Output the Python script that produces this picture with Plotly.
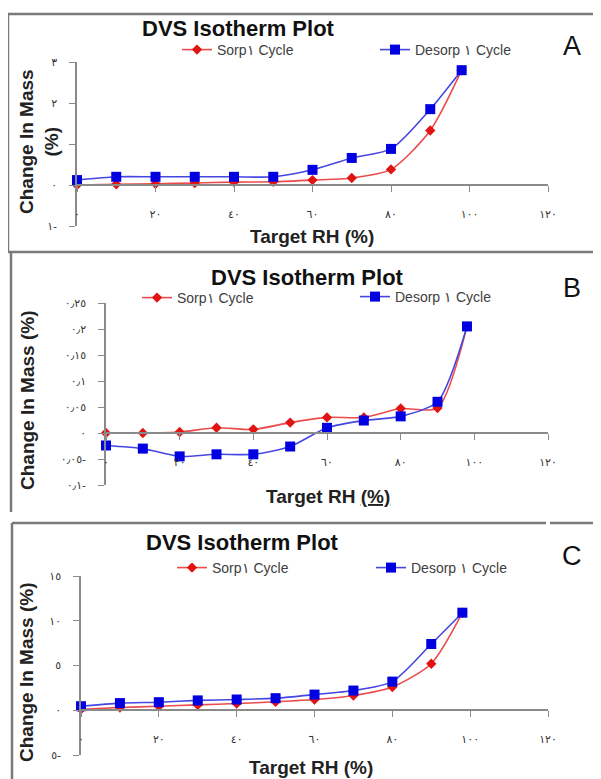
import plotly.graph_objects as go

W, H = 601, 779

# ---------------- data ----------------
rh = [0, 10, 20, 30, 40, 50, 60, 70, 80, 90, 98]

a_sorp = [0.0, 0.02, 0.03, 0.05, 0.07, 0.08, 0.12, 0.17, 0.38, 1.33, 2.8]
a_desorp = [0.12, 0.2, 0.2, 0.2, 0.2, 0.2, 0.37, 0.66, 0.88, 1.85, 2.8]

b_sorp = [0.0, 0.0, 0.002, 0.01, 0.007, 0.02, 0.03, 0.03, 0.047, 0.048, 0.205]
b_desorp = [-0.024, -0.03, -0.045, -0.041, -0.041, -0.026, 0.01, 0.024, 0.032, 0.06, 0.205]

c_sorp = [0.1, 0.3, 0.45, 0.6, 0.75, 0.95, 1.2, 1.65, 2.6, 5.2, 10.9]
c_desorp = [0.45, 0.8, 0.9, 1.1, 1.2, 1.35, 1.75, 2.2, 3.2, 7.4, 10.9]

x_tickvals = [0, 20, 40, 60, 80, 100, 120]
x_ticktext = ["٠", "٢٠", "٤٠", "٦٠", "٨٠", "١٠٠", "١٢٠"]

a_yvals = [-1, 0, 1, 2, 3]
a_ytext = ["١-", "٠", "", "٢", "٣"]
b_yvals = [-0.1, -0.05, 0, 0.05, 0.1, 0.15, 0.2, 0.25]
b_ytext = ["٠٫١-", "٠٫٠٥-", "٠", "٠٫٠٥", "٠٫١", "٠٫١٥", "٠٫٢", "٠٫٢٥"]
c_yvals = [-5, 0, 5, 10, 15]
c_ytext = ["٥-", "٠", "٥", "١٠", "١٥"]

sorp_name = "Sorp١ Cycle"
desorp_name = "Desorp ١ Cycle"
title_text = "DVS Isotherm Plot"
x_title = "Target RH (%)"

# ---------------- helpers ----------------
OX, OY = 8, 8  # page body margin offset


def px(x):
    return (x - OX) / W


def py(y):
    return 1 - (y - OY) / H


GRAY = "#8a8a8a"
RED_L = "rgb(235,75,75)"
RED_M = "rgb(225,20,20)"
BLUE_L = "rgb(70,70,225)"
BLUE_M = "rgb(0,0,225)"
FONT = "Liberation Sans, Arial, sans-serif"

panels = [
    dict(key="", sorp=a_sorp, desorp=a_desorp, xpx=(77, 548), ypx=(62, 226), yr=[-1, 3],
         yv=a_yvals, yt=a_ytext, leg=((177, 50), (375, 50)),
         title=(238, 29), letter=("A", 572, 46),
         ytitle=("Change In Mass<br>(%)", 39, 142), xtitle=(x_title, 312, 236)),
    dict(key="2", sorp=b_sorp, desorp=b_desorp, xpx=(106, 548), ypx=(303, 485), yr=[-0.1, 0.25],
         yv=b_yvals, yt=b_ytext, leg=((137, 298), (355, 297)),
         title=(307, 277), letter=("B", 572, 288),
         ytitle=("Change In Mass (%)", 27, 401), xtitle=("Target RH <u>(%)</u>", 328, 497)),
    dict(key="3", sorp=c_sorp, desorp=c_desorp, xpx=(81, 548), ypx=(576, 755), yr=[-5, 15],
         yv=c_yvals, yt=c_ytext, leg=((172, 568), (371, 568)),
         title=(242, 542), letter=("C", 572, 556),
         ytitle=("Change In Mass (%)", 26, 673), xtitle=(x_title, 311, 767)),
]

fig = go.Figure()
annotations = []
layout = {}

for i, p in enumerate(panels):
    k = p["key"]
    xa = "x" + k
    ya = "y" + k
    lg1 = "legend" + ("" if i == 0 else str(2 * i + 1))
    lg2 = "legend" + str(2 * i + 2)

    fig.add_trace(go.Scatter(
        x=rh, y=p["sorp"], name=sorp_name, mode="lines+markers",
        line=dict(color=RED_L, width=1.6, shape="spline", smoothing=0.7),
        marker=dict(symbol="diamond", size=8, color=RED_M),
        xaxis=xa, yaxis=ya, legend=lg1, showlegend=True, cliponaxis=False))
    fig.add_trace(go.Scatter(
        x=rh, y=p["desorp"], name=desorp_name, mode="lines+markers",
        line=dict(color=BLUE_L, width=1.6, shape="spline", smoothing=0.7),
        marker=dict(symbol="square", size=10, color=BLUE_M),
        xaxis=xa, yaxis=ya, legend=lg2, showlegend=True, cliponaxis=False))

    x0, x1 = p["xpx"]
    yt, yb = p["ypx"]
    ydom = [py(yb), py(yt)]
    ymin, ymax = p["yr"]
    zero_pos = ydom[0] + (0 - ymin) / (ymax - ymin) * (ydom[1] - ydom[0])

    layout["xaxis" + k] = dict(
        domain=[px(x0), px(x1)], range=[0, 120], anchor="free", position=zero_pos,
        showline=True, linecolor=GRAY, linewidth=1.5, ticks="outside", ticklen=6,
        tickcolor=GRAY, tickwidth=1.2, tickvals=x_tickvals, ticktext=x_ticktext,
        ticklabelstandoff=13, showgrid=False, zeroline=False, automargin=False,
        tickfont=dict(family="DejaVu Sans", size=11, color="#333333"))
    layout["yaxis" + k] = dict(
        domain=ydom, range=p["yr"], anchor=xa,
        showline=True, linecolor=GRAY, linewidth=1.5, ticks="outside", ticklen=6,
        tickcolor=GRAY, tickwidth=1.2, tickvals=p["yv"], ticktext=p["yt"],
        ticklabelstandoff=10, showgrid=False, zeroline=False, automargin=False,
        tickfont=dict(family="DejaVu Sans", size=11, color="#333333"))

    (l1x, l1y), (l2x, l2y) = p["leg"]
    for lg, lx, ly in ((lg1, l1x, l1y), (lg2, l2x, l2y)):
        layout[lg] = dict(x=px(lx), y=py(ly), xanchor="left", yanchor="middle",
                          orientation="h", bgcolor="rgba(0,0,0,0)", borderwidth=0,
                          font=dict(family=FONT, size=14, color="#404040"))

    tx, ty = p["title"]
    annotations.append(dict(text="<b>" + title_text + "</b>", x=px(tx), y=py(ty),
                            xref="paper", yref="paper", showarrow=False,
                            xanchor="center", yanchor="middle",
                            font=dict(family=FONT, size=22, color="#111111")))
    lt, lx_, ly_ = p["letter"]
    annotations.append(dict(text=lt, x=px(lx_), y=py(ly_), xref="paper", yref="paper",
                            showarrow=False, xanchor="center", yanchor="middle",
                            font=dict(family=FONT, size=27, color="#111111")))
    ytx, yx, yy = p["ytitle"]
    annotations.append(dict(text="<b>" + ytx + "</b>", x=px(yx), y=py(yy), xref="paper",
                            yref="paper", showarrow=False, textangle=-90,
                            xanchor="center", yanchor="middle",
                            font=dict(family=FONT, size=19, color="#222222")))
    xtx, xx, xy = p["xtitle"]
    annotations.append(dict(text="<b>" + xtx + "</b>", x=px(xx), y=py(xy), xref="paper",
                            yref="paper", showarrow=False, xanchor="center", yanchor="middle",
                            font=dict(family=FONT, size=19, color="#222222")))

# frames around panels
FR = dict(color="#7a7a7a", width=2.5)
frame_lines = [
    (8, 14, 605, 14), (8, 14, 8, 252), (8, 252, 605, 252),   # A
    (11, 252, 11, 512),                                       # B
    (12, 523, 546, 523), (550, 523, 598, 523),                # C top
    (12, 523, 12, 785), (598, 523, 598, 785),                 # C sides
]
shapes = [dict(type="line", xref="paper", yref="paper", x0=px(a), y0=py(b), x1=px(c), y1=py(d),
               line=FR) for a, b, c, d in frame_lines]

fig.update_layout(
    width=W, height=H, margin=dict(l=0, r=0, t=0, b=0, autoexpand=False),
    showlegend=True,
    paper_bgcolor="white", plot_bgcolor="white",
    annotations=annotations, shapes=shapes, **layout)

fig.write_html("out.html")
